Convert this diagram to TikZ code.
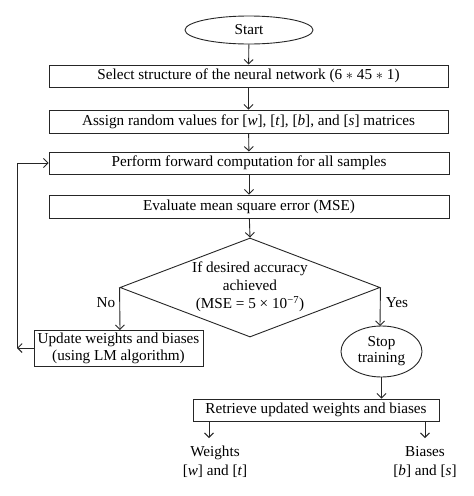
\documentclass[tikz,border=0pt]{standalone}
\usepackage{fontspec}
\setmainfont{Liberation Serif}
\usetikzlibrary{shapes.geometric,arrows.meta}
\begin{document}
\begin{tikzpicture}[x=1pt,y=-1pt,
  every node/.style={font=\fontsize{15.2}{17}\selectfont},
  line/.style={draw=black!85, line width=0.9pt},
  arr/.style={line, -{Straight Barb[length=4.5pt,width=9pt,line width=0.9pt]}},
  procbox/.style={line, rectangle, inner sep=0pt},
  term/.style={line, ellipse, inner sep=0pt},
  plain/.style={inner sep=0pt, align=center}]
\useasboundingbox (0,0) rectangle (474,496);
\fill[white] (0,0) rectangle (474,496);

\node[term, minimum width=128pt, minimum height=28pt] (start) at (249,30) {Start};
\node[procbox, minimum width=399pt, minimum height=22pt] (b1) at (248.5,76) {Select structure of the neural network (6 $\ast$ 45 $\ast$ 1)};
\node[procbox, minimum width=399pt, minimum height=23pt] (b2) at (248.5,121.5) {Assign random values for [\textit{w}], [\textit{t}], [\textit{b}], and [\textit{s}] matrices};
\node[procbox, minimum width=400pt, minimum height=22pt] (b3) at (249,163) {Perform forward computation for all samples};
\node[procbox, minimum width=400pt, minimum height=23pt] (b4) at (249,206.5) {Evaluate mean square error (MSE)};
\node[line, diamond, minimum width=260pt, minimum height=99pt, inner sep=0pt] (dec) at (250,287.5) {};
\node[plain] (dectext) at (250,286.5) {If desired accuracy\\[1pt] achieved\\[1pt] (MSE = 5 × 10\textsuperscript{−7})};
\node[procbox, minimum width=169pt, minimum height=36pt, align=center] (upd) at (118.5,348) {Update weights and biases\\[0pt] (using LM algorithm)};
\node[term, minimum width=81pt, minimum height=51pt, align=center] (stop) at (381.5,351.5) {Stop\\[-1pt] training};
\node[procbox, minimum width=246pt, minimum height=22pt] (ret) at (316,410) {Retrieve updated weights and biases};
\node[plain] (wts) at (215,462) {Weights\\[2pt] [\textit{w}] and [\textit{t}]};
\node[plain] (bia) at (425,462) {Biases\\[2pt] [\textit{b}] and [\textit{s}]};

\coordinate (wtop) at (209,438);
\coordinate (btop) at (425,438);
\coordinate (lbot) at (17,348);
\coordinate (ltop) at (17,163);
\coordinate (nodown) at (120,330);
\coordinate (yesdown) at (380,326);

\draw[arr] (start) -- (b1);
\draw[arr] (b1) -- (b2);
\draw[arr] (b2) -- (b3);
\draw[arr] (b3) -- (b4);
\draw[arr] (b4) -- (dec.north);
\draw[arr] (dec.west) -- (nodown);
\draw[arr] (dec.east) -- (yesdown);
\node[plain] (no) at (106,303) {No};
\node[plain] (yes) at (397,303) {Yes};
\draw[arr] (upd.west |- lbot) -- (lbot);
\draw[arr] (lbot) -- (ltop) -- (b3.west);
\draw[arr] (stop.south) -- (stop.south |- ret.north);
\draw[arr] (ret.south -| wtop) -- (wtop);
\draw[arr] (ret.south -| btop) -- (btop);
\end{tikzpicture}
\end{document}
